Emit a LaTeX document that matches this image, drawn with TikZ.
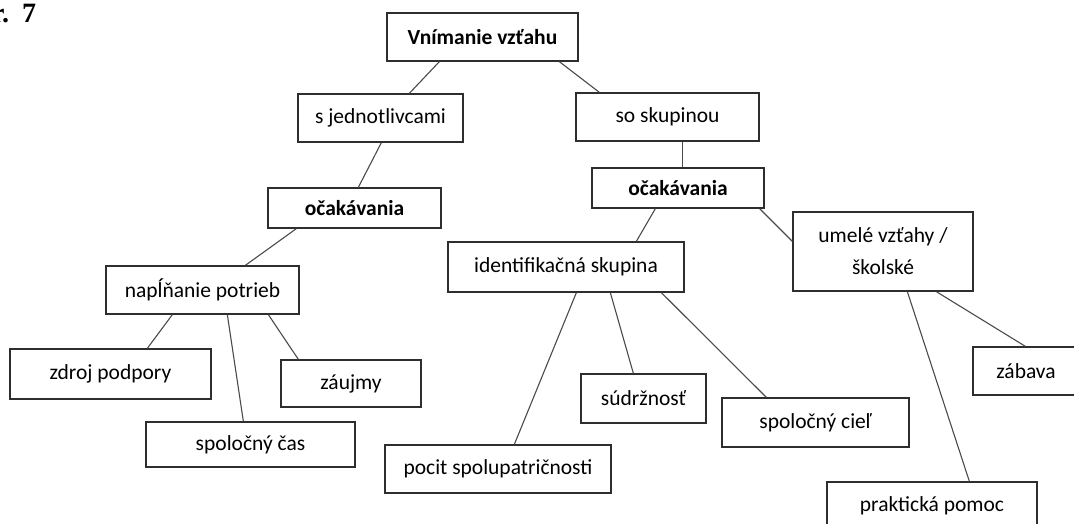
\documentclass[tikz,border=0pt]{standalone}
\usepackage{fontspec}
\setmainfont{Carlito}
\newfontfamily\capfont{Liberation Serif}
\begin{document}
\begin{tikzpicture}[x=1pt,y=-1pt,
  box/.style={draw=boxborder, line width=1.3pt, fill=white, inner sep=0pt, align=center,
    font=\fontsize{21.5}{32}\selectfont},
  boldbox/.style={box, font=\fontsize{21.5}{32}\selectfont\bfseries},
  link/.style={draw=linkgray, line width=1.1pt}]
\definecolor{boxborder}{HTML}{2E2E2E}
\definecolor{linkgray}{HTML}{4A4A4A}
\useasboundingbox (0,0) rectangle (1074,524);
\clip (0,0) rectangle (1074,524);
\node[anchor=base west, inner sep=0pt, font=\capfont\bfseries\fontsize{28}{32}\selectfont] (cap) at (-8,23) {r.\hspace{13pt}7};
% nodes
\node[boldbox, minimum width=191pt, minimum height=48pt] (top) at (482.5,37) {Vnímanie vzťahu};
\node[box, minimum width=165pt, minimum height=48pt] (sj) at (380.5,118) {s jednotlivcami};
\node[box, minimum width=183pt, minimum height=48pt] (ss) at (667.5,117) {so skupinou};
\node[boldbox, minimum width=173pt, minimum height=40pt] (oca) at (354.5,208) {očakávania};
\node[boldbox, minimum width=172pt, minimum height=40pt] (ocb) at (678,188) {očakávania};
\node[box, minimum width=193pt, minimum height=48pt] (nap) at (202.5,290) {napĺňanie potrieb};
\node[box, minimum width=201pt, minimum height=50pt] (zdr) at (110.5,374) {zdroj podpory};
\node[box, minimum width=140pt, minimum height=47pt] (zau) at (351,383.5) {záujmy};
\node[box, minimum width=209pt, minimum height=45pt] (cas) at (250.5,444.5) {spoločný čas};
\node[box, minimum width=236pt, minimum height=50pt] (idf) at (566,267) {identifikačná skupina};
\node[box, minimum width=125pt, minimum height=49pt] (sud) at (643.5,398.5) {súdržnosť};
\node[box, minimum width=187pt, minimum height=49pt] (cie) at (815.5,422.5) {spoločný cieľ};
\node[box, minimum width=226pt, minimum height=48pt] (poc) at (498,469) {pocit spolupatričnosti};
\node[box, minimum width=180pt, minimum height=79pt] (ume) at (883,251.5) {umelé vzťahy /\\školské};
\node[box, minimum width=106pt, minimum height=48pt] (zab) at (1026,371) {zábava};
\node[box, minimum width=210pt, minimum height=48pt] (pra) at (932,506) {praktická pomoc};
% connectors
\draw[link] ([xshift=53pt]top.south west) -- ([xshift=112pt]sj.north west);
\draw[link] ([xshift=173pt]top.south west) -- ([xshift=24pt]ss.north west);
\draw[link] ([xshift=84pt]sj.south west) -- ([xshift=91pt]oca.north west);
\draw[link] ([xshift=107pt]ss.south west) -- ([xshift=91pt]ocb.north west);
\draw[link] ([xshift=64pt]ocb.south west) -- ([xshift=189pt]idf.north west);
\draw[link] ([xshift=-5pt]ocb.south east) -- ([yshift=-30pt]ume.north west);
\draw[link] ([xshift=29pt]oca.south west) -- ([xshift=140pt]nap.north west);
\draw[link] ([xshift=67pt]nap.south west) -- ([xshift=138pt]zdr.north west);
\draw[link] ([xshift=122pt]nap.south west) -- ([xshift=98pt]cas.north west);
\draw[link] ([xshift=163pt]nap.south west) -- ([xshift=18pt]zau.north west);
\draw[link] ([xshift=129pt]idf.south west) -- ([xshift=130pt]poc.north west);
\draw[link] ([xshift=163pt]idf.south west) -- ([xshift=53pt]sud.north west);
\draw[link] ([xshift=214pt]idf.south west) -- ([xshift=45pt]cie.north west);
\draw[link] ([xshift=115pt]ume.south west) -- ([xshift=143pt]pra.north west);
\draw[link] ([xshift=144pt]ume.south west) -- ([xshift=53pt]zab.north west);
\end{tikzpicture}
\end{document}
